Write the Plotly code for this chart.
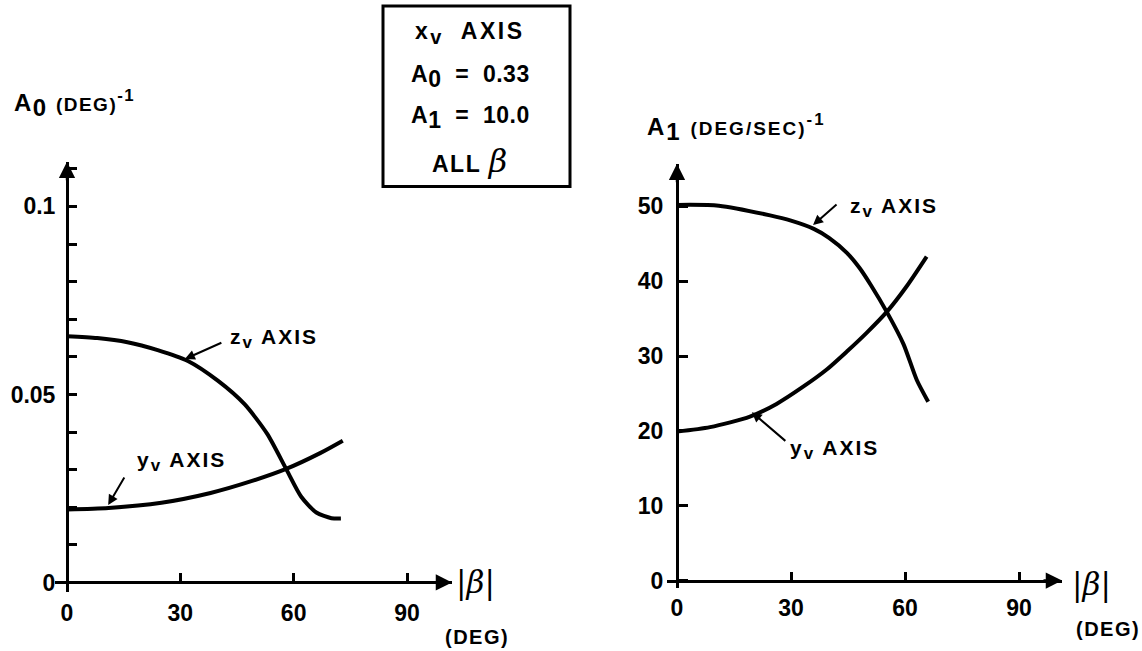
import plotly.graph_objects as go

# ---- data: attenuation coefficients vs sideslip |beta| (deg) ----
beta_a0_z = [0, 8, 16, 24, 32, 40, 47, 53, 58, 62, 66, 70, 72.5]
a0_z = [0.0655, 0.0650, 0.0639, 0.0618, 0.0589, 0.0536, 0.0474, 0.0395, 0.0302, 0.0228, 0.0186, 0.0171, 0.0170]

beta_a0_y = [0, 11, 25, 38, 49, 58, 67, 73]
a0_y = [0.0194, 0.0198, 0.0212, 0.0238, 0.0270, 0.0302, 0.0344, 0.0377]

beta_a1_z = [0, 11, 24.5, 30, 36, 40, 44.7, 48, 51, 55.2, 59.6, 63.1, 66.1]
a1_z = [50.2, 50.1, 48.8, 48.1, 47.0, 45.8, 43.8, 41.8, 39.5, 35.9, 31.6, 26.8, 23.9]

beta_a1_y = [0, 8.7, 19.2, 26.2, 33.2, 39.4, 44.7, 49.9, 55.2, 60.4, 65.7]
a1_y = [19.9, 20.5, 21.9, 23.6, 25.9, 28.2, 30.6, 33.1, 35.9, 39.3, 43.3]

x_ticks = [0, 30, 60, 90]
a0_ticks = [0, 0.05, 0.1]
a0_ticktext = ["0", "0.05", "0.1"]
a1_ticks = [0, 10, 20, 30, 40, 50]

# ---- page geometry (pixels) ----
W, H = 1142, 651
FONT = "Liberation Sans"
LW = 3

left = dict(x0=67, xl=55, xr=452, dpx=(407 - 67) / 90, y0=587, yb=597, yt=163, upx=(587 - 208) / 0.1)
right = dict(x0=677, xl=667, xr=1062, dpx=(1019 - 677) / 90, y0=585, yb=593, yt=165, upx=(585 - 208) / 50)


def geom(p):
    xr = [(p["xl"] - p["x0"]) / p["dpx"], (p["xr"] - p["x0"]) / p["dpx"]]
    yr = [-(p["yb"] - p["y0"]) / p["upx"], (p["y0"] - p["yt"]) / p["upx"]]
    xd = [p["xl"] / W, p["xr"] / W]
    yd = [(H - p["yb"]) / H, (H - p["yt"]) / H]
    xpos = (H - p["y0"]) / H
    ypos = p["x0"] / W
    return xr, yr, xd, yd, xpos, ypos


fig = go.Figure()
line = dict(color="black", width=4, shape="spline", smoothing=0.7)
fig.add_trace(go.Scatter(x=beta_a0_z, y=a0_z, mode="lines", line=line, xaxis="x", yaxis="y"))
fig.add_trace(go.Scatter(x=beta_a0_y, y=a0_y, mode="lines", line=line, xaxis="x", yaxis="y"))
fig.add_trace(go.Scatter(x=beta_a1_z, y=a1_z, mode="lines", line=line, xaxis="x2", yaxis="y2"))
fig.add_trace(go.Scatter(x=beta_a1_y, y=a1_y, mode="lines", line=line, xaxis="x2", yaxis="y2"))

tickfont = dict(family=FONT, size=23, color="black", weight="bold")

xr1, yr1, xd1, yd1, xp1, yp1 = geom(left)
xr2, yr2, xd2, yd2, xp2, yp2 = geom(right)

common = dict(anchor="free", showline=True, linecolor="black", linewidth=LW, showgrid=False,
              zeroline=False, ticks="inside", tickwidth=LW, tickcolor="black", tickfont=tickfont,
              fixedrange=True)

fig.update_layout(
    width=W, height=H, margin=dict(l=0, r=0, t=0, b=0),
    paper_bgcolor="white", plot_bgcolor="rgba(0,0,0,0)", showlegend=False,
    xaxis=dict(common, range=xr1, domain=xd1, position=xp1, tickvals=x_ticks,
               ticktext=[str(v) for v in x_ticks], ticklen=8, ticklabelstandoff=9),
    yaxis=dict(common, range=yr1, domain=yd1, position=yp1, tickvals=a0_ticks,
               ticktext=a0_ticktext, ticklen=8, ticklabelstandoff=6,
               minor=dict(dtick=0.01, ticks="inside", ticklen=8, tickwidth=LW, tickcolor="black")),
    xaxis2=dict(common, range=xr2, domain=xd2, position=xp2, tickvals=x_ticks,
                ticktext=[str(v) for v in x_ticks], ticklen=8, ticklabelstandoff=6),
    yaxis2=dict(common, range=yr2, domain=yd2, position=yp2, tickvals=a1_ticks,
                ticktext=[str(v) for v in a1_ticks], ticklen=9, ticklabelstandoff=8),
)

ann = []
# axis arrowheads
for xa, ya, xr, yr in (("x", "y", xr1, yr1), ("x2", "y2", xr2, yr2)):
    ann.append(dict(x=xr[1], y=0, xref=xa, yref=ya, ax=-20, ay=0, text="", showarrow=True,
                    arrowhead=2, arrowsize=1.3, arrowwidth=2.5, arrowcolor="black"))
    ann.append(dict(x=0, y=yr[1], xref=xa, yref=ya, ax=0, ay=20, text="", showarrow=True,
                    arrowhead=2, arrowsize=1.3, arrowwidth=2.5, arrowcolor="black"))


def wide(s, px=2):
    return f'<span style="letter-spacing:{px}px">{s}</span>'


def sub(s, size):
    return f'<sub><span style="font-size:{size}px">{s}</span></sub>'


lab = dict(family=FONT, size=21, color="black", weight="bold")


def text(x, y, s, xref="paper", yref="paper", xanchor="center", font=lab):
    ann.append(dict(x=x, y=y, xref=xref, yref=yref, text=s, showarrow=False,
                    xanchor=xanchor, yanchor="middle", font=font))


def pointer(x, y, ax, ay, xref, yref):
    # short leader arrow ending on a curve; (ax, ay) is the tail offset in pixels
    ann.append(dict(x=x, y=y, xref=xref, yref=yref, ax=ax, ay=ay, text="", showarrow=True,
                    arrowhead=2, arrowsize=1.0, arrowwidth=2, arrowcolor="black"))


zlab = wide("z" + sub("v", 17) + " AXIS")
ylab = wide("y" + sub("v", 17) + " AXIS")

# curve labels with pointers (left panel)
text(42.6, 0.0650, zlab, "x", "y", "left")
pointer(31.2, 0.0594, 38, -17, "x", "y")
text(18.0, 0.0322, ylab, "x", "y", "left")
pointer(10.9, 0.0206, 17, -29, "x", "y")
# right panel
text(45.0, 49.9, zlab, "x2", "y2", "left")
pointer(35.8, 47.5, 25, -22, "x2", "y2")
text(29.2, 17.5, ylab, "x2", "y2", "left")
pointer(19.7, 22.5, 35, 30, "x2", "y2")

# axis titles
big = dict(family=FONT, size=24, color="black", weight="bold")
text(12 / W, (H - 104) / H,
     wide("A" + sub("0", 24) + ' <span style="font-size:19px">(DEG)</span><sup>-1</sup>', 1.5),
     xanchor="left", font=big)
text(645 / W, (H - 128) / H,
     wide("A" + sub("1", 24) + ' <span style="font-size:19px">(DEG/SEC)</span><sup>-1</sup>', 2),
     xanchor="left", font=big)

beta_font = dict(family="DejaVu Serif", size=31, color="black")
deg_font = dict(family=FONT, size=20, color="black", weight="bold")
for cx, cy, dx, dy in ((475, 587, 477, 642), (1091, 589, 1108, 634)):
    text(cx / W, (H - cy) / H, "|<i>β</i>|", font=beta_font)
    text(dx / W, (H - dy) / H, wide("(DEG)", 1.5), font=deg_font)

# boxed constants for the x-axis
box_font = dict(family=FONT, size=23, color="black", weight="bold")
bx = 470 / W
text(bx, (H - 33) / H, wide("x" + sub("v", 20) + "  AXIS", 2.5), font=box_font)
text(bx, (H - 77) / H, wide("A" + sub("0", 23) + "  =  0.33", 0.5), font=box_font)
text(bx, (H - 118) / H, wide("A" + sub("1", 23) + "  =  10.0", 0.5), font=box_font)
text(bx, (H - 162) / H,
     wide('ALL <span style="font-family:DejaVu Serif;font-size:32px;font-weight:normal;'
          'font-style:italic">β</span>', 1.5),
     font=box_font)

fig.update_layout(annotations=ann, shapes=[
    dict(type="rect", xref="paper", yref="paper", x0=383 / W, x1=570 / W,
         y0=(H - 188) / H, y1=(H - 6) / H, line=dict(color="black", width=3))
])

fig.write_html("out.html")
